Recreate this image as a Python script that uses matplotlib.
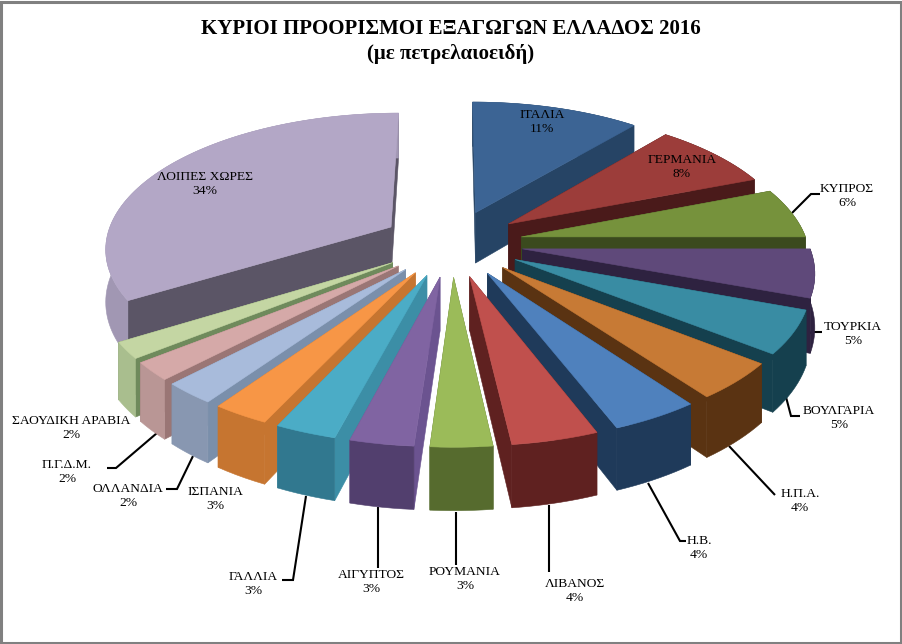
import numpy as np
import matplotlib
matplotlib.use("Agg")
import matplotlib.pyplot as plt
from matplotlib.patches import Polygon, Rectangle

# ---- data ----
countries = ["ΙΤΑΛΙΑ", "ΓΕΡΜΑΝΙΑ", "ΚΥΠΡΟΣ", "ΤΟΥΡΚΙΑ", "ΒΟΥΛΓΑΡΙΑ", "Η.Π.Α.", "Η.Β.", "ΛΙΒΑΝΟΣ",
             "ΡΟΥΜΑΝΙΑ", "ΑΙΓΥΠΤΟΣ", "ΓΑΛΛΙΑ", "ΙΣΠΑΝΙΑ", "ΟΛΛΑΝΔΙΑ", "Π.Γ.Δ.Μ.", "ΣΑΟΥΔΙΚΗ ΑΡΑΒΙΑ", "ΛΟΙΠΕΣ ΧΩΡΕΣ"]
shares = [11.1, 8.0, 5.9, 5.6, 5.0, 4.3, 4.2, 4.1, 2.9, 3.0, 2.9, 2.7, 2.5, 2.1, 1.9, 33.8]
share_labels = [11, 8, 6, 5, 5, 4, 4, 4, 3, 3, 3, 3, 2, 2, 2, 34]

# ---- styles ----
top_colors = ["#3C6494", "#9C3D3A", "#76923C", "#5F497A", "#398CA3", "#C77A35", "#4F81BD", "#C0504D",
              "#9BBB59", "#8064A2", "#4BACC6", "#F79646", "#A8BBDB", "#D5A9A8", "#C4D6A3", "#B3A7C6"]
outer_colors = ["#264465", "#4A1A1A", "#3B4A1E", "#2E2240", "#15404E", "#5A3312", "#1F3A5A", "#5F2120",
                "#566B2E", "#523F6E", "#31788F", "#C67530", "#8897B1", "#B99695", "#A9BE8E", "#A197B3"]
radial_colors = ["#264465", "#4A1A1A", "#3B4A1E", "#2E2240", "#15404E", "#5A3312", "#1F3A5A", "#5F2120",
                 "#566B2E", "#6B5390", "#3C8EA6", "#C67530", "#7A8FAB", "#9A7675", "#6F8A5C", "#5B5566"]

# label centre (px), and leader path from the slice to the label
label_pos = [(542, 122), (682, 167), (847, 196), (853, 334), (839, 418), (800, 501), (699, 548), (575, 591),
             (465, 579), (371, 582), (253, 584), (215, 499), (128, 496), (67, 472), (71, 428), (205, 184)]
leader_paths = [None, None,
                [(792, 213), (811, 194), (820, 194)],
                [(808, 334), (812, 332), (822, 332)],
                [(786, 397), (791, 416), (800, 416)],
                [(729, 446), (775, 495)],
                [(648, 483), (680, 541), (686, 541)],
                [(549, 505), (549, 572)],
                [(456, 512), (456, 565)],
                [(378, 507), (378, 568)],
                [(306, 496), (293, 580), (282, 580)],
                None,
                [(193, 456), (177, 489), (166, 489)],
                [(157, 433), (116, 468), (107, 468)],
                None, None]

# ---- geometry of the exploded 3D pie ----
CX, CY, R, EXPLODE, HEIGHT = 452.0, 243.0, 286.0, 71.0, 59.0
SIN_T, COS_T = 0.47, 0.883
CAM = 2000.0


def project(x, y, z):
    p = CAM / (CAM - y)
    return CX + x * p, CY + (y * SIN_T - z * COS_T) * p


fig = plt.figure(figsize=(9.03, 6.44), dpi=100)
ax = fig.add_axes([0, 0, 1, 1])
ax.set_xlim(0, 903)
ax.set_ylim(644, 0)
ax.axis("off")


def quad(points, color, z):
    ax.add_patch(Polygon(points, closed=True, facecolor=color, edgecolor=color, linewidth=0.4, zorder=z))


shares_arr = np.asarray(shares, dtype=float)
edges = np.concatenate([[0], np.cumsum(shares_arr)]) / shares_arr.sum() * 2 * np.pi
mids = (edges[:-1] + edges[1:]) / 2
order = np.argsort(-np.cos(mids))

for rank, i in enumerate(order):
    a0, a1, mid = edges[i], edges[i + 1], mids[i]
    ox, oy = EXPLODE * np.sin(mid), -EXPLODE * np.cos(mid)
    th = np.linspace(a0, a1, max(6, int((a1 - a0) * 40)))
    rim_x, rim_y = ox + R * np.sin(th), oy - R * np.cos(th)
    top = [project(x, y, 0) for x, y in zip(rim_x, rim_y)]
    bot = [project(x, y, -HEIGHT) for x, y in zip(rim_x, rim_y)]
    tip_t, tip_b = project(ox, oy, 0), project(ox, oy, -HEIGHT)
    z = 2 + rank * 0.1
    quad([tip_t, top[0], bot[0], tip_b], radial_colors[i], z)
    quad([tip_t, top[-1], bot[-1], tip_b], radial_colors[i], z)
    quad(top + bot[::-1], outer_colors[i], z + 0.01)
    quad([tip_t] + top, top_colors[i], z + 0.02)

for path in leader_paths:
    if path:
        xs, ys = zip(*path)
        ax.plot(xs, ys, color="black", lw=1.5, zorder=1, solid_capstyle="butt", solid_joinstyle="miter")

for name, pct, (lx, ly) in zip(countries, share_labels, label_pos):
    ax.text(lx, ly, f"{name}\n{pct}%", ha="center", va="center", fontsize=9.7, color="black",
            linespacing=1.2, zorder=10, family="Liberation Serif")

ax.text(451, 29, "ΚΥΡΙΟΙ ΠΡΟΟΡΙΣΜΟΙ ΕΞΑΓΩΓΩΝ ΕΛΛΑΔΟΣ 2016", ha="center", va="center", fontsize=15,
        fontweight="bold", family="Liberation Serif")
ax.text(451, 54, "(με πετρελαιοειδή)", ha="center", va="center", fontsize=15,
        fontweight="bold", family="Liberation Serif")

ax.add_patch(Rectangle((1.5, 1.5), 900, 641, fill=False, edgecolor="#808080", linewidth=2.2, zorder=20))
fig.savefig("out.png", dpi=100, facecolor="white")
